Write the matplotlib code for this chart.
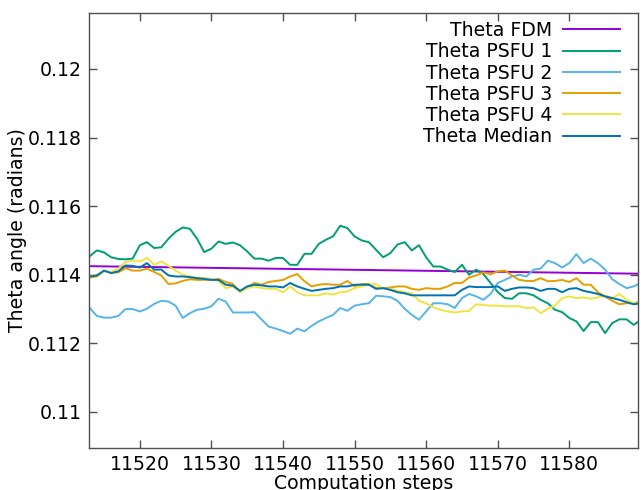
import numpy as np
import matplotlib
matplotlib.use("Agg")
import matplotlib.pyplot as plt

steps = np.arange(11513, 11591)

fdm_steps = [11513, 11590]
theta_fdm = [0.11425, 0.11403]

theta_psfu1 = [
    0.11454, 0.11471, 0.11465, 0.11451, 0.11446, 0.11445, 0.11447, 0.11486, 0.11495, 0.11478,
    0.11480, 0.11505, 0.11525, 0.11538, 0.11534, 0.11505, 0.11466, 0.11476, 0.11497, 0.11490,
    0.11494, 0.11486, 0.11468, 0.11447, 0.11447, 0.11441, 0.11449, 0.11449, 0.11429, 0.11429,
    0.11461, 0.11461, 0.11490, 0.11502, 0.11512, 0.11543, 0.11536, 0.11512, 0.11500, 0.11495,
    0.11473, 0.11451, 0.11463, 0.11488, 0.11495, 0.11471, 0.11486, 0.11451, 0.11424, 0.11424,
    0.11415, 0.11408, 0.11429, 0.11400, 0.11415, 0.11402, 0.11376, 0.11350, 0.11332, 0.11330,
    0.11346, 0.11346, 0.11340, 0.11327, 0.11317, 0.11298, 0.11291, 0.11274, 0.11264, 0.11236,
    0.11262, 0.11262, 0.11230, 0.11259, 0.11270, 0.11270, 0.11254, 0.11268,
]

theta_psfu2 = [
    0.11303, 0.11280, 0.11275, 0.11275, 0.11280, 0.11300, 0.11300, 0.11293, 0.11301, 0.11315,
    0.11324, 0.11322, 0.11310, 0.11274, 0.11288, 0.11298, 0.11301, 0.11308, 0.11330, 0.11322,
    0.11290, 0.11290, 0.11290, 0.11291, 0.11270, 0.11249, 0.11243, 0.11236, 0.11228, 0.11243,
    0.11235, 0.11251, 0.11264, 0.11274, 0.11283, 0.11303, 0.11295, 0.11310, 0.11314, 0.11317,
    0.11339, 0.11337, 0.11335, 0.11324, 0.11301, 0.11283, 0.11269, 0.11293, 0.11317, 0.11317,
    0.11314, 0.11303, 0.11332, 0.11344, 0.11337, 0.11327, 0.11344, 0.11376, 0.11385, 0.11395,
    0.11400, 0.11395, 0.11415, 0.11418, 0.11441, 0.11434, 0.11421, 0.11434, 0.11460, 0.11434,
    0.11447, 0.11434, 0.11415, 0.11387, 0.11373, 0.11361, 0.11366, 0.11376,
]

theta_psfu3 = [
    0.11392, 0.11395, 0.11412, 0.11405, 0.11407, 0.11419, 0.11412, 0.11412, 0.11418, 0.11408,
    0.11398, 0.11373, 0.11375, 0.11382, 0.11387, 0.11385, 0.11385, 0.11385, 0.11388, 0.11379,
    0.11373, 0.11351, 0.11363, 0.11376, 0.11371, 0.11379, 0.11382, 0.11385, 0.11395, 0.11402,
    0.11381, 0.11366, 0.11371, 0.11373, 0.11371, 0.11371, 0.11382, 0.11366, 0.11373, 0.11373,
    0.11361, 0.11361, 0.11363, 0.11366, 0.11366, 0.11359, 0.11356, 0.11361, 0.11359, 0.11359,
    0.11366, 0.11376, 0.11376, 0.11392, 0.11398, 0.11407, 0.11401, 0.11410, 0.11412, 0.11398,
    0.11385, 0.11382, 0.11382, 0.11390, 0.11381, 0.11382, 0.11385, 0.11379, 0.11390, 0.11371,
    0.11371, 0.11349, 0.11337, 0.11324, 0.11314, 0.11317, 0.11317, 0.11322,
]

theta_psfu4 = [
    0.11398, 0.11400, 0.11410, 0.11408, 0.11418, 0.11437, 0.11441, 0.11439, 0.11449, 0.11429,
    0.11439, 0.11426, 0.11412, 0.11400, 0.11395, 0.11392, 0.11390, 0.11388, 0.11382, 0.11361,
    0.11366, 0.11349, 0.11361, 0.11366, 0.11361, 0.11359, 0.11359, 0.11349, 0.11366, 0.11349,
    0.11340, 0.11340, 0.11340, 0.11346, 0.11342, 0.11349, 0.11351, 0.11361, 0.11366, 0.11371,
    0.11373, 0.11359, 0.11359, 0.11353, 0.11349, 0.11346, 0.11324, 0.11317, 0.11305, 0.11298,
    0.11293, 0.11290, 0.11293, 0.11295, 0.11314, 0.11312, 0.11310, 0.11310, 0.11308, 0.11308,
    0.11308, 0.11303, 0.11305, 0.11288, 0.11301, 0.11310, 0.11332, 0.11337, 0.11332, 0.11334,
    0.11330, 0.11334, 0.11340, 0.11332, 0.11344, 0.11327, 0.11317, 0.11317,
]

theta_median = [
    0.11395, 0.11398, 0.11412, 0.11405, 0.11410, 0.11427, 0.11426, 0.11421, 0.11434, 0.11415,
    0.11415, 0.11398, 0.11395, 0.11395, 0.11393, 0.11390, 0.11388, 0.11385, 0.11385, 0.11371,
    0.11368, 0.11353, 0.11366, 0.11371, 0.11369, 0.11366, 0.11366, 0.11363, 0.11376, 0.11366,
    0.11359, 0.11353, 0.11356, 0.11359, 0.11361, 0.11366, 0.11366, 0.11371, 0.11371, 0.11371,
    0.11359, 0.11361, 0.11356, 0.11349, 0.11346, 0.11340, 0.11340, 0.11340, 0.11340, 0.11340,
    0.11340, 0.11340, 0.11356, 0.11366, 0.11364, 0.11364, 0.11364, 0.11366, 0.11353, 0.11359,
    0.11363, 0.11363, 0.11361, 0.11353, 0.11359, 0.11359, 0.11349, 0.11359, 0.11361, 0.11353,
    0.11349, 0.11344, 0.11337, 0.11332, 0.11327, 0.11320, 0.11314, 0.11317,
]

labels = ["Theta FDM", "Theta PSFU 1", "Theta PSFU 2", "Theta PSFU 3", "Theta PSFU 4", "Theta Median"]
colors = ["#9400d3", "#009e73", "#56b4e9", "#e69f00", "#f0e442", "#0072b2"]

xticks = [11520, 11530, 11540, 11550, 11560, 11570, 11580]
yticks = [0.110, 0.112, 0.114, 0.116, 0.118, 0.120]
ytick_labels = ["0.11", "0.112", "0.114", "0.116", "0.118", "0.12"]

plt.rcParams["font.family"] = ["DejaVu Sans"]
FS = 13.6

fig = plt.figure(figsize=(6.41, 4.90), dpi=100)
ax = fig.add_axes([89 / 641, 1 - 448 / 490, (638 - 89) / 641, (448 - 13) / 490])

series = [theta_psfu1, theta_psfu2, theta_psfu3, theta_psfu4, theta_median]
ax.plot(fdm_steps, theta_fdm, color=colors[0], lw=1.4, label=labels[0])
for vals, c, lab in zip(series, colors[1:], labels[1:]):
    ax.plot(steps, vals, color=c, lw=1.4, label=lab)

ax.set_xlim(11512.9, 11589.6)
ax.set_ylim(0.10895, 0.12163)
ax.set_xticks(xticks)
ax.set_xticklabels([str(t) for t in xticks])
ax.set_yticks(yticks)
ax.set_yticklabels(ytick_labels)

for s in ax.spines.values():
    s.set_color("#505050")
    s.set_linewidth(1.0)
ax.tick_params(direction="in", length=6, width=1.0, color="#505050",
               top=True, right=True, labelsize=FS, pad=5)

ax.set_xlabel("Computation steps", fontsize=FS, labelpad=0)
ax.set_ylabel("Theta angle (radians)", fontsize=FS, va="center")
ax.yaxis.set_label_coords(-(89 - 18) / 549, 0.5)

leg = ax.legend(loc="upper right", bbox_to_anchor=(1 - 18 / 549, 1 - 8 / 435),
                frameon=False, markerfirst=False, fontsize=FS, labelspacing=0.12,
                handlelength=3.0, handletextpad=0.6, borderaxespad=0, borderpad=0)

fig.savefig("out.png", dpi=100)
